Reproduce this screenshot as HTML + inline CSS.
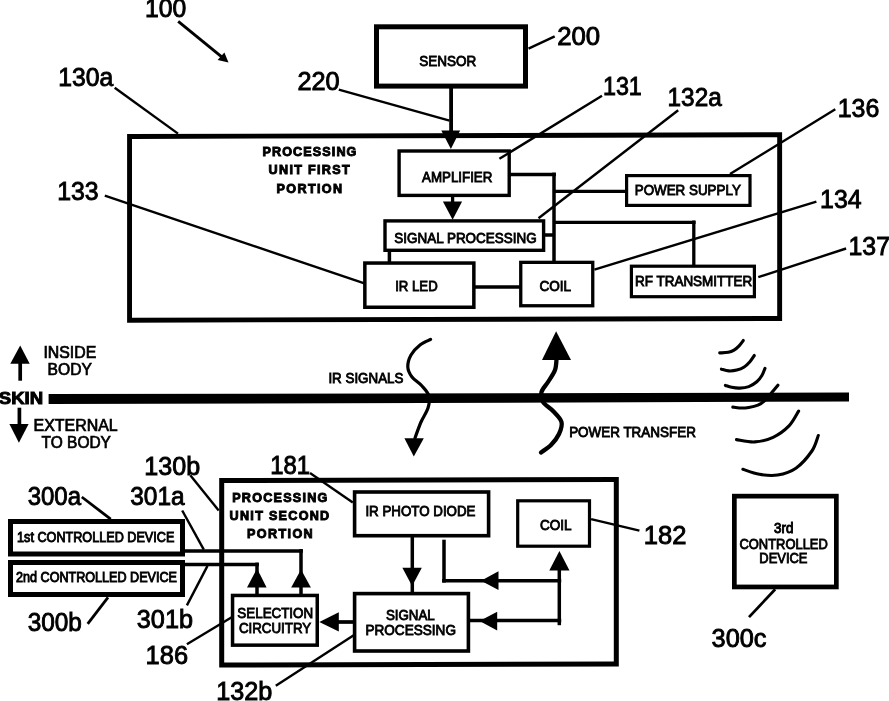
<!DOCTYPE html>
<html><head><meta charset="utf-8"><title>Fig</title>
<style>
html,body{margin:0;padding:0;background:#fff;}
body{width:889px;height:701px;overflow:hidden;}
svg{display:block;will-change:transform;font-family:"Liberation Sans",sans-serif;fill:#000;}
</style></head><body>
<svg width="889" height="701" viewBox="0 0 889 701">
<rect x="0" y="0" width="889" height="701" fill="#fff"/>
<rect transform="translate(454.60,227.48) skewY(-0.16) translate(-454.60,-227.48)" x="129.55" y="135.60" width="650.10" height="183.75" fill="none" stroke="#000" stroke-width="4.9"/>
<rect x="376.50" y="26.80" width="149.00" height="59.30" fill="none" stroke="#000" stroke-width="5.0"/>
<text x="419.27" y="65.98" font-size="14" text-anchor="start" font-weight="normal" textLength="56.99" lengthAdjust="spacingAndGlyphs" stroke="#000" stroke-width="0.85">SENSOR</text>
<line x1="451.10" y1="88.00" x2="451.10" y2="135.00" stroke="#000" stroke-width="3.8" stroke-linecap="butt"/>
<polygon points="441.30,130.60 460.10,130.60 450.90,149.00" fill="#000"/>
<rect x="399.10" y="151.00" width="110.10" height="44.40" fill="none" stroke="#000" stroke-width="3.4"/>
<text x="422.01" y="181.96" font-size="14" text-anchor="start" font-weight="normal" textLength="70.35" lengthAdjust="spacingAndGlyphs" stroke="#000" stroke-width="0.85">AMPLIFIER</text>
<line x1="452.60" y1="196.00" x2="452.60" y2="203.00" stroke="#000" stroke-width="3.3" stroke-linecap="butt"/>
<polygon points="442.90,201.50 462.10,201.50 452.60,219.80" fill="#000"/>
<rect x="385.00" y="220.90" width="158.60" height="29.40" fill="none" stroke="#000" stroke-width="3.4"/>
<text x="394.35" y="242.98" font-size="14" text-anchor="start" font-weight="normal" textLength="142.27" lengthAdjust="spacingAndGlyphs" stroke="#000" stroke-width="0.85">SIGNAL PROCESSING</text>
<line x1="389.40" y1="251.00" x2="389.40" y2="263.00" stroke="#000" stroke-width="3.5" stroke-linecap="butt"/>
<rect x="364.85" y="263.05" width="109.00" height="44.20" fill="none" stroke="#000" stroke-width="3.5"/>
<text x="395.19" y="290.98" font-size="14" text-anchor="start" font-weight="normal" textLength="42.46" lengthAdjust="spacingAndGlyphs" stroke="#000" stroke-width="0.85">IR LED</text>
<line x1="475.00" y1="287.10" x2="520.00" y2="287.10" stroke="#000" stroke-width="3.5" stroke-linecap="butt"/>
<rect x="520.75" y="262.35" width="72.00" height="43.40" fill="none" stroke="#000" stroke-width="3.3"/>
<text x="539.47" y="291.00" font-size="14" text-anchor="start" font-weight="normal" textLength="31.68" lengthAdjust="spacingAndGlyphs" stroke="#000" stroke-width="0.85">COIL</text>
<line x1="510.00" y1="174.50" x2="555.90" y2="174.50" stroke="#000" stroke-width="3.5" stroke-linecap="butt"/>
<line x1="554.00" y1="172.60" x2="554.00" y2="262.00" stroke="#000" stroke-width="3.5" stroke-linecap="butt"/>
<line x1="544.00" y1="235.00" x2="554.00" y2="235.00" stroke="#000" stroke-width="3.5" stroke-linecap="butt"/>
<line x1="554.00" y1="191.30" x2="626.00" y2="191.30" stroke="#000" stroke-width="3.3" stroke-linecap="butt"/>
<rect x="626.60" y="175.60" width="123.40" height="29.80" fill="none" stroke="#000" stroke-width="3.2"/>
<text x="634.71" y="195.46" font-size="14" text-anchor="start" font-weight="normal" textLength="106.16" lengthAdjust="spacingAndGlyphs" stroke="#000" stroke-width="0.85">POWER SUPPLY</text>
<line x1="554.00" y1="222.30" x2="695.60" y2="222.30" stroke="#000" stroke-width="3.3" stroke-linecap="butt"/>
<line x1="693.80" y1="220.50" x2="693.80" y2="266.00" stroke="#000" stroke-width="3.3" stroke-linecap="butt"/>
<rect x="631.40" y="266.20" width="123.00" height="30.50" fill="none" stroke="#000" stroke-width="3.2"/>
<text x="635.03" y="285.96" font-size="14" text-anchor="start" font-weight="normal" textLength="117.16" lengthAdjust="spacingAndGlyphs" stroke="#000" stroke-width="0.85">RF TRANSMITTER</text>
<text x="262.48" y="155.64" font-size="12.6" text-anchor="start" font-weight="bold" textLength="93.93" lengthAdjust="spacing" stroke="#000" stroke-width="0.9">PROCESSING</text>
<text x="268.61" y="174.12" font-size="12.6" text-anchor="start" font-weight="bold" textLength="80.99" lengthAdjust="spacing" stroke="#000" stroke-width="0.9">UNIT FIRST</text>
<text x="276.57" y="192.62" font-size="12.6" text-anchor="start" font-weight="bold" textLength="65.53" lengthAdjust="spacing" stroke="#000" stroke-width="0.9">PORTION</text>
<text x="144.95" y="17.14" font-size="25" text-anchor="start" font-weight="normal" textLength="41.22" lengthAdjust="spacingAndGlyphs" stroke="#000" stroke-width="0.9">100</text>
<line x1="178.20" y1="21.40" x2="222.00" y2="57.20" stroke="#000" stroke-width="2.9" stroke-linecap="butt"/>
<polygon points="228.50,62.50 217.60,60.00 224.40,52.40" fill="#000"/>
<text x="58.30" y="85.58" font-size="25" text-anchor="start" font-weight="normal" textLength="55.01" lengthAdjust="spacingAndGlyphs" stroke="#000" stroke-width="0.9">130a</text>
<line x1="114.70" y1="87.70" x2="178.00" y2="133.60" stroke="#000" stroke-width="2.4" stroke-linecap="butt"/>
<text x="297.41" y="89.64" font-size="25" text-anchor="start" font-weight="normal" textLength="42.22" lengthAdjust="spacingAndGlyphs" stroke="#000" stroke-width="0.9">220</text>
<line x1="338.80" y1="89.60" x2="449.50" y2="120.70" stroke="#000" stroke-width="2.4" stroke-linecap="butt"/>
<text x="557.18" y="44.58" font-size="25" text-anchor="start" font-weight="normal" textLength="43.04" lengthAdjust="spacingAndGlyphs" stroke="#000" stroke-width="0.9">200</text>
<line x1="528.50" y1="48.60" x2="554.70" y2="36.40" stroke="#000" stroke-width="2.4" stroke-linecap="butt"/>
<text x="602.97" y="95.08" font-size="25" text-anchor="start" font-weight="normal" textLength="38.86" lengthAdjust="spacingAndGlyphs" stroke="#000" stroke-width="0.9">131</text>
<line x1="602.00" y1="95.80" x2="499.40" y2="158.80" stroke="#000" stroke-width="2.4" stroke-linecap="butt"/>
<text x="667.58" y="106.06" font-size="25" text-anchor="start" font-weight="normal" textLength="54.17" lengthAdjust="spacingAndGlyphs" stroke="#000" stroke-width="0.9">132a</text>
<line x1="678.20" y1="110.20" x2="538.50" y2="218.30" stroke="#000" stroke-width="2.4" stroke-linecap="butt"/>
<text x="837.73" y="116.64" font-size="25" text-anchor="start" font-weight="normal" textLength="41.55" lengthAdjust="spacingAndGlyphs" stroke="#000" stroke-width="0.9">136</text>
<line x1="835.30" y1="109.30" x2="730.00" y2="174.00" stroke="#000" stroke-width="2.4" stroke-linecap="butt"/>
<text x="57.14" y="199.60" font-size="25" text-anchor="start" font-weight="normal" textLength="41.47" lengthAdjust="spacingAndGlyphs" stroke="#000" stroke-width="0.9">133</text>
<line x1="104.80" y1="195.60" x2="364.40" y2="283.40" stroke="#000" stroke-width="2.4" stroke-linecap="butt"/>
<text x="820.07" y="208.08" font-size="25" text-anchor="start" font-weight="normal" textLength="41.46" lengthAdjust="spacingAndGlyphs" stroke="#000" stroke-width="0.9">134</text>
<line x1="816.40" y1="201.60" x2="594.40" y2="269.60" stroke="#000" stroke-width="2.4" stroke-linecap="butt"/>
<text x="848.54" y="255.10" font-size="25" text-anchor="start" font-weight="normal" textLength="41.46" lengthAdjust="spacingAndGlyphs" stroke="#000" stroke-width="0.9">137</text>
<line x1="846.10" y1="248.50" x2="758.30" y2="277.20" stroke="#000" stroke-width="2.4" stroke-linecap="butt"/>
<polygon points="48.6,394.1 849,392.5 849,401.6 48.6,404.1" fill="#000"/>
<text x="-1.27" y="404.48" font-size="16.2" text-anchor="start" font-weight="bold" textLength="44.40" lengthAdjust="spacingAndGlyphs" stroke="#000" stroke-width="0.9">SKIN</text>
<line x1="20.20" y1="362.00" x2="20.20" y2="380.70" stroke="#000" stroke-width="3.7" stroke-linecap="butt"/>
<polygon points="10.30,363.70 29.70,363.70 20.20,345.60" fill="#000"/>
<text x="43.42" y="357.96" font-size="15.7" text-anchor="start" font-weight="normal" textLength="52.84" lengthAdjust="spacingAndGlyphs" stroke="#000" stroke-width="0.7">INSIDE</text>
<text x="47.60" y="375.46" font-size="15.7" text-anchor="start" font-weight="normal" textLength="44.31" lengthAdjust="spacingAndGlyphs" stroke="#000" stroke-width="0.7">BODY</text>
<line x1="19.40" y1="407.70" x2="19.40" y2="426.00" stroke="#000" stroke-width="3.7" stroke-linecap="butt"/>
<polygon points="9.40,424.00 28.60,424.00 18.90,442.80" fill="#000"/>
<text x="33.51" y="430.50" font-size="15.7" text-anchor="start" font-weight="normal" textLength="84.22" lengthAdjust="spacingAndGlyphs" stroke="#000" stroke-width="0.7">EXTERNAL</text>
<text x="41.58" y="447.50" font-size="15.7" text-anchor="start" font-weight="normal" textLength="69.31" lengthAdjust="spacingAndGlyphs" stroke="#000" stroke-width="0.7">TO BODY</text>
<text x="328.41" y="383.02" font-size="14" text-anchor="start" font-weight="normal" textLength="74.98" lengthAdjust="spacingAndGlyphs" stroke="#000" stroke-width="0.85">IR SIGNALS</text>
<path d="M430.60,339.40 C428.83,340.33 423.27,342.40 420.00,345.00 C416.73,347.60 413.03,351.33 411.00,355.00 C408.97,358.67 407.63,363.33 407.80,367.00 C407.97,370.67 409.63,373.83 412.00,377.00 C414.37,380.17 419.17,382.83 422.00,386.00 C424.83,389.17 428.00,392.33 429.00,396.00 C430.00,399.67 429.33,403.67 428.00,408.00 C426.67,412.33 423.17,417.00 421.00,422.00 C418.83,427.00 416.00,435.33 415.00,438.00" fill="none" stroke="#000" stroke-width="3.2" stroke-linecap="round" stroke-linejoin="round"/>
<polygon points="404.40,438.20 423.80,438.20 413.80,456.50" fill="#000"/>
<polygon points="542.00,360.00 571.00,360.00 556.10,331.30" fill="#000"/>
<path d="M556.60,358.00 C556.33,360.00 556.43,366.00 555.00,370.00 C553.57,374.00 550.25,378.33 548.00,382.00 C545.75,385.67 542.33,388.67 541.50,392.00 C540.67,395.33 541.08,398.83 543.00,402.00 C544.92,405.17 549.92,407.67 553.00,411.00 C556.08,414.33 560.50,418.17 561.50,422.00 C562.50,425.83 560.75,430.17 559.00,434.00 C557.25,437.83 554.00,441.92 551.00,445.00 C548.00,448.08 542.67,451.25 541.00,452.50" fill="none" stroke="#000" stroke-width="4.3" stroke-linecap="round" stroke-linejoin="round"/>
<text x="569.16" y="437.01" font-size="14" text-anchor="start" font-weight="normal" textLength="126.69" lengthAdjust="spacingAndGlyphs" stroke="#000" stroke-width="0.85">POWER TRANSFER</text>
<path d="M743.30,340.50 C742.60,341.38 740.65,344.20 739.10,345.80 C737.55,347.40 735.80,349.02 734.00,350.10 C732.20,351.18 730.68,351.83 728.30,352.30 C725.92,352.77 721.13,352.80 719.70,352.90" fill="none" stroke="#000" stroke-width="3.1" stroke-linecap="round" stroke-linejoin="round"/>
<path d="M754.30,355.50 C753.57,356.55 751.58,359.88 749.90,361.80 C748.22,363.72 746.38,365.62 744.20,367.00 C742.02,368.38 739.37,369.45 736.80,370.10 C734.23,370.75 731.37,371.05 728.80,370.90 C726.23,370.75 722.63,369.48 721.40,369.20" fill="none" stroke="#000" stroke-width="3.1" stroke-linecap="round" stroke-linejoin="round"/>
<path d="M765.00,368.30 C764.48,369.50 763.27,373.25 761.90,375.50 C760.53,377.75 758.98,379.95 756.80,381.80 C754.62,383.65 751.65,385.55 748.80,386.60 C745.95,387.65 742.55,387.98 739.70,388.10 C736.85,388.22 734.08,387.75 731.70,387.30 C729.32,386.85 726.45,385.72 725.40,385.40" fill="none" stroke="#000" stroke-width="3.1" stroke-linecap="round" stroke-linejoin="round"/>
<path d="M777.90,385.20 C776.95,386.35 774.38,389.53 772.20,392.10 C770.02,394.67 767.18,398.42 764.80,400.60 C762.42,402.78 760.57,404.05 757.90,405.20 C755.23,406.35 751.83,407.03 748.80,407.50 C745.77,407.97 742.37,408.07 739.70,408.00 C737.03,407.93 733.95,407.25 732.80,407.10" fill="none" stroke="#000" stroke-width="3.1" stroke-linecap="round" stroke-linejoin="round"/>
<path d="M798.60,411.10 C797.00,413.57 793.25,421.53 789.00,425.90 C784.75,430.27 778.80,434.63 773.10,437.30 C767.40,439.97 760.90,441.52 754.80,441.90 C748.70,442.28 739.55,439.98 736.50,439.60" fill="none" stroke="#000" stroke-width="3.1" stroke-linecap="round" stroke-linejoin="round"/>
<path d="M818.30,435.50 C817.23,438.08 815.63,445.55 811.90,451.00 C808.17,456.45 801.62,464.20 795.90,468.20 C790.18,472.20 783.68,473.98 777.60,475.00 C771.52,476.02 765.18,475.25 759.40,474.30 C753.62,473.35 745.65,470.13 742.90,469.30" fill="none" stroke="#000" stroke-width="3.1" stroke-linecap="round" stroke-linejoin="round"/>
<rect transform="translate(419.00,572.25) skewY(-0.16) translate(-419.00,-572.25)" x="221.70" y="480.05" width="394.60" height="184.40" fill="none" stroke="#000" stroke-width="5.0"/>
<text x="232.19" y="501.58" font-size="12.6" text-anchor="start" font-weight="bold" textLength="95.18" lengthAdjust="spacing" stroke="#000" stroke-width="0.9">PROCESSING</text>
<text x="229.61" y="520.12" font-size="12.6" text-anchor="start" font-weight="bold" textLength="99.59" lengthAdjust="spacing" stroke="#000" stroke-width="0.9">UNIT SECOND</text>
<text x="246.99" y="538.12" font-size="12.6" text-anchor="start" font-weight="bold" textLength="65.74" lengthAdjust="spacing" stroke="#000" stroke-width="0.9">PORTION</text>
<rect x="10.50" y="521.50" width="172.00" height="32.50" fill="none" stroke="#000" stroke-width="5.0"/>
<text x="17.07" y="541.52" font-size="14.4" text-anchor="start" font-weight="normal" textLength="157.28" lengthAdjust="spacingAndGlyphs" stroke="#000" stroke-width="0.95">1st CONTROLLED DEVICE</text>
<rect x="10.50" y="562.50" width="172.00" height="32.00" fill="none" stroke="#000" stroke-width="5.0"/>
<text x="16.04" y="582.04" font-size="14.4" text-anchor="start" font-weight="normal" textLength="160.96" lengthAdjust="spacingAndGlyphs" stroke="#000" stroke-width="0.95">2nd CONTROLLED DEVICE</text>
<line x1="184.00" y1="551.00" x2="302.90" y2="551.00" stroke="#000" stroke-width="3.5" stroke-linecap="butt"/>
<line x1="301.00" y1="549.10" x2="301.00" y2="595.00" stroke="#000" stroke-width="3.5" stroke-linecap="butt"/>
<polygon points="291.20,587.40 310.90,587.40 301.00,569.50" fill="#000"/>
<line x1="184.00" y1="564.50" x2="258.90" y2="564.50" stroke="#000" stroke-width="3.5" stroke-linecap="butt"/>
<line x1="257.00" y1="562.60" x2="257.00" y2="595.00" stroke="#000" stroke-width="3.5" stroke-linecap="butt"/>
<polygon points="247.00,587.40 266.60,587.40 257.00,568.50" fill="#000"/>
<rect x="232.55" y="595.45" width="84.70" height="49.70" fill="none" stroke="#000" stroke-width="3.5"/>
<text x="237.36" y="618.48" font-size="14" text-anchor="start" font-weight="normal" textLength="75.79" lengthAdjust="spacingAndGlyphs" stroke="#000" stroke-width="0.85">SELECTION</text>
<text x="238.96" y="633.46" font-size="14" text-anchor="start" font-weight="normal" textLength="72.22" lengthAdjust="spacingAndGlyphs" stroke="#000" stroke-width="0.85">CIRCUITRY</text>
<line x1="337.00" y1="622.00" x2="353.00" y2="622.00" stroke="#000" stroke-width="3.7" stroke-linecap="butt"/>
<polygon points="338.80,612.30 338.80,631.60 319.30,622.00" fill="#000"/>
<rect x="354.60" y="593.60" width="113.80" height="57.40" fill="none" stroke="#000" stroke-width="3.6"/>
<text x="385.89" y="620.04" font-size="14" text-anchor="start" font-weight="normal" textLength="48.92" lengthAdjust="spacingAndGlyphs" stroke="#000" stroke-width="0.85">SIGNAL</text>
<text x="365.41" y="634.98" font-size="14" text-anchor="start" font-weight="normal" textLength="90.55" lengthAdjust="spacingAndGlyphs" stroke="#000" stroke-width="0.85">PROCESSING</text>
<rect x="354.60" y="492.00" width="134.00" height="43.70" fill="none" stroke="#000" stroke-width="3.6"/>
<text x="365.43" y="516.02" font-size="14" text-anchor="start" font-weight="normal" textLength="110.08" lengthAdjust="spacingAndGlyphs" stroke="#000" stroke-width="0.85">IR PHOTO DIODE</text>
<line x1="412.30" y1="536.00" x2="412.30" y2="593.00" stroke="#000" stroke-width="3.5" stroke-linecap="butt"/>
<polygon points="402.40,567.70 421.80,567.70 412.10,586.00" fill="#000"/>
<line x1="444.00" y1="539.70" x2="444.00" y2="582.60" stroke="#000" stroke-width="3.5" stroke-linecap="butt"/>
<line x1="442.10" y1="580.70" x2="561.20" y2="580.70" stroke="#000" stroke-width="3.5" stroke-linecap="butt"/>
<polygon points="498.50,571.20 498.50,590.10 481.00,580.70" fill="#000"/>
<line x1="559.30" y1="568.00" x2="559.30" y2="625.20" stroke="#000" stroke-width="3.5" stroke-linecap="butt"/>
<polygon points="549.30,570.40 569.50,570.40 559.40,551.00" fill="#000"/>
<line x1="469.00" y1="620.50" x2="561.20" y2="620.50" stroke="#000" stroke-width="3.5" stroke-linecap="butt"/>
<polygon points="497.20,611.70 497.20,630.60 479.60,621.00" fill="#000"/>
<rect x="517.70" y="500.80" width="71.80" height="45.40" fill="none" stroke="#000" stroke-width="3.2"/>
<text x="539.96" y="529.52" font-size="14" text-anchor="start" font-weight="normal" textLength="31.59" lengthAdjust="spacingAndGlyphs" stroke="#000" stroke-width="0.85">COIL</text>
<rect x="734.35" y="496.15" width="102.00" height="90.80" fill="none" stroke="#000" stroke-width="4.7"/>
<text x="774.08" y="533.02" font-size="13.8" text-anchor="start" font-weight="normal" textLength="19.29" lengthAdjust="spacingAndGlyphs" stroke="#000" stroke-width="0.95">3rd</text>
<text x="739.49" y="548.96" font-size="13.8" text-anchor="start" font-weight="normal" textLength="88.27" lengthAdjust="spacingAndGlyphs" stroke="#000" stroke-width="0.85">CONTROLLED</text>
<text x="759.34" y="562.54" font-size="13.8" text-anchor="start" font-weight="normal" textLength="48.14" lengthAdjust="spacingAndGlyphs" stroke="#000" stroke-width="0.85">DEVICE</text>
<text x="144.27" y="474.62" font-size="25" text-anchor="start" font-weight="normal" textLength="55.84" lengthAdjust="spacingAndGlyphs" stroke="#000" stroke-width="0.9">130b</text>
<line x1="190.30" y1="475.20" x2="218.70" y2="510.50" stroke="#000" stroke-width="2.4" stroke-linecap="butt"/>
<text x="270.31" y="473.58" font-size="25" text-anchor="start" font-weight="normal" textLength="39.80" lengthAdjust="spacingAndGlyphs" stroke="#000" stroke-width="0.9">181</text>
<line x1="310.00" y1="473.00" x2="352.80" y2="502.40" stroke="#000" stroke-width="2.4" stroke-linecap="butt"/>
<text x="27.67" y="504.65" font-size="25" text-anchor="start" font-weight="normal" textLength="53.37" lengthAdjust="spacingAndGlyphs" stroke="#000" stroke-width="0.9">300a</text>
<line x1="81.80" y1="497.00" x2="110.70" y2="519.10" stroke="#000" stroke-width="2.8" stroke-linecap="butt"/>
<text x="130.21" y="504.64" font-size="25" text-anchor="start" font-weight="normal" textLength="54.44" lengthAdjust="spacingAndGlyphs" stroke="#000" stroke-width="0.9">301a</text>
<line x1="182.20" y1="510.50" x2="203.80" y2="549.60" stroke="#000" stroke-width="2.4" stroke-linecap="butt"/>
<text x="27.67" y="630.64" font-size="25" text-anchor="start" font-weight="normal" textLength="54.22" lengthAdjust="spacingAndGlyphs" stroke="#000" stroke-width="0.9">300b</text>
<line x1="87.70" y1="623.90" x2="108.00" y2="597.40" stroke="#000" stroke-width="2.8" stroke-linecap="butt"/>
<text x="136.82" y="627.58" font-size="25" text-anchor="start" font-weight="normal" textLength="56.19" lengthAdjust="spacingAndGlyphs" stroke="#000" stroke-width="0.9">301b</text>
<line x1="186.90" y1="605.40" x2="207.50" y2="565.90" stroke="#000" stroke-width="2.4" stroke-linecap="butt"/>
<text x="145.60" y="664.12" font-size="25" text-anchor="start" font-weight="normal" textLength="42.47" lengthAdjust="spacingAndGlyphs" stroke="#000" stroke-width="0.9">186</text>
<line x1="186.90" y1="644.20" x2="231.70" y2="617.20" stroke="#000" stroke-width="2.4" stroke-linecap="butt"/>
<text x="216.25" y="700.08" font-size="25" text-anchor="start" font-weight="normal" textLength="56.09" lengthAdjust="spacingAndGlyphs" stroke="#000" stroke-width="0.9">132b</text>
<line x1="275.80" y1="685.70" x2="354.10" y2="635.10" stroke="#000" stroke-width="2.4" stroke-linecap="butt"/>
<text x="643.87" y="543.62" font-size="25" text-anchor="start" font-weight="normal" textLength="42.65" lengthAdjust="spacingAndGlyphs" stroke="#000" stroke-width="0.9">182</text>
<line x1="591.10" y1="519.10" x2="639.40" y2="530.70" stroke="#000" stroke-width="2.4" stroke-linecap="butt"/>
<text x="711.59" y="646.76" font-size="25" text-anchor="start" font-weight="normal" textLength="54.90" lengthAdjust="spacingAndGlyphs" stroke="#000" stroke-width="0.9">300c</text>
<line x1="775.20" y1="589.30" x2="749.00" y2="617.10" stroke="#000" stroke-width="2.8" stroke-linecap="butt"/>
</svg>
</body></html>
